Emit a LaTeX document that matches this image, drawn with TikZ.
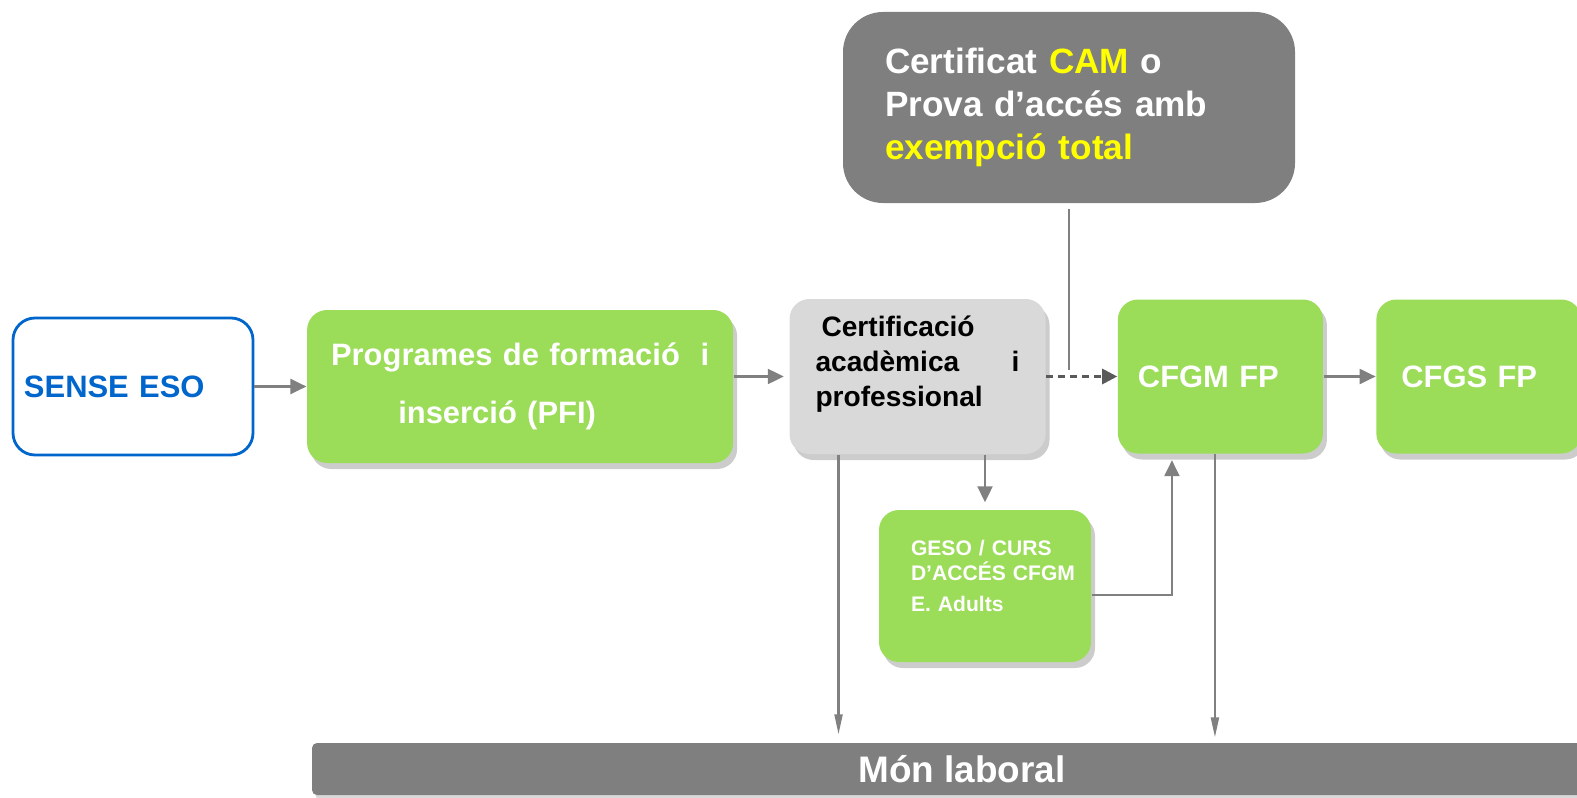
\documentclass[tikz,border=0pt]{standalone}
\usepackage{fontspec}
\setmainfont{Liberation Sans}
\usetikzlibrary{positioning,arrows.meta,shadows}
\definecolor{boxgreen}{RGB}{155,220,88}
\definecolor{boxgray}{RGB}{127,127,127}
\definecolor{certgray}{RGB}{217,217,217}
\definecolor{esoblue}{RGB}{0,102,204}
\definecolor{linegray}{RGB}{128,128,128}
\definecolor{dashgray}{RGB}{90,90,90}
\definecolor{camyellow}{RGB}{255,255,0}

\begin{document}
\begin{tikzpicture}[
    box/.style={rectangle, rounded corners=0.2cm, minimum height=1.53cm, align=left,
        drop shadow={shadow xshift=0.04cm, shadow yshift=-0.06cm, opacity=0.4}},
    greenbox/.style={box, fill=boxgreen, text=white, font=\bfseries\fontsize{8.8}{10.5}\selectfont},
    esobox/.style={draw=esoblue, line width=0.8pt, rounded corners=0.22cm, fill=white, text=esoblue,
        minimum width=2.40cm, minimum height=1.37cm, text width=2.18cm, inner xsep=0.11cm, align=left,
        font=\bfseries\fontsize{8.8}{10.5}\selectfont},
    graybox/.style={rectangle, fill=boxgray, text=white},
    arr/.style={draw=linegray, line width=0.6pt, -{Triangle[length=0.16cm, width=0.15cm]}},
    thinarr/.style={draw=linegray, line width=0.6pt, -{Triangle[length=0.2cm, width=0.08cm]}},
    plainline/.style={draw=linegray, line width=0.6pt},
    dashline/.style={draw=dashgray, line width=0.8pt, dash pattern=on 0.07cm off 0.05cm,
        -{Triangle[length=0.15cm, width=0.15cm]}}
]
    \clip (0,0) rectangle (15.77,-7.97);

    \node [esobox] (sense) at (1.33,-3.865) {SENSE ESO};
    \node [greenbox, right=0.52cm of sense, minimum width=4.26cm, text width=3.86cm, inner xsep=0.2cm,
        align=center, font=\bfseries\fontsize{8.8}{16.5}\selectfont] (pfi)
        {Programes de formació~~i\hspace*{0.12cm}\\inserció (PFI)\hspace*{0.46cm}};
    \node [box, fill=certgray, right=0.55cm of pfi, yshift=0.1cm, minimum width=2.56cm, minimum height=1.55cm,
        text width=2.04cm, inner xsep=0.26cm, font=\bfseries\fontsize{8}{10}\selectfont] (cert)
        {\hspace{0.06cm}Certificació\\acadèmica\hfill i\\professional\\[-0.05cm]\mbox{}};
    \node [greenbox, right=0.71cm of cert, minimum width=2.05cm, minimum height=1.54cm,
        text width=1.65cm, inner xsep=0.2cm] (cfgm) {CFGM FP};
    \node [greenbox, right=0.52cm of cfgm, minimum width=2.05cm, minimum height=1.54cm,
        text width=1.55cm, inner xsep=0.25cm] (cfgs) {CFGS FP};

    \node [graybox, rounded corners=0.4cm, minimum width=4.52cm, minimum height=1.91cm, text width=3.68cm,
        inner xsep=0.42cm, align=left, font=\bfseries\fontsize{10}{12.2}\selectfont] (cam) at (10.69,-1.075)
        {Certificat \textcolor{camyellow}{CAM} o\\Prova d’accés amb\\\textcolor{camyellow}{exempció total}};
    \node [greenbox, minimum width=2.12cm, minimum height=1.52cm, text width=1.48cm, inner xsep=0.32cm,
        font=\bfseries\fontsize{6}{7.1}\selectfont] (geso) at (9.85,-5.86)
        {GESO / CURS\\D’ACCÉS~CFGM\\[0.06cm]E. Adults\\[-0.05cm]\mbox{}};
    \node [graybox, rounded corners=0.05cm, minimum width=13.0cm, minimum height=0.52cm,
        drop shadow={shadow xshift=0.03cm, shadow yshift=-0.04cm, opacity=0.3},
        font=\bfseries\fontsize{10.5}{12}\selectfont] (mon) at (9.62,-7.69) {Món laboral};

    \draw [arr] (sense.east) -- (sense.east -| pfi.west);
    \draw [arr, shorten >=0.05cm] (pfi.east |- cert.west) -- (cert.west);
    \draw [dashline] (cert.east) -- (cfgm.west |- cert.east);
    \draw [plainline] ([yshift=-0.05cm]cam.south) -- ([yshift=0.07cm]cam.south |- cert.east);
    \draw [arr] (cfgm.east) -- (cfgm.east -| cfgs.west);
    \draw [arr, shorten >=0.07cm] (geso.north |- cert.south) -- (geso.north);
    \draw [thinarr, shorten >=0.08cm] ([xshift=-0.79cm]cert.south) -- ([xshift=-0.79cm]cert.south |- mon.north);
    \draw [arr, shorten >=0.06cm] ([yshift=-0.09cm]geso.east) -| ([xshift=-0.485cm]cfgm.south);
    \draw [thinarr, shorten >=0.05cm] ([xshift=-0.055cm]cfgm.south) -- ([xshift=-0.055cm]cfgm.south |- mon.north);
\end{tikzpicture}
\end{document}
